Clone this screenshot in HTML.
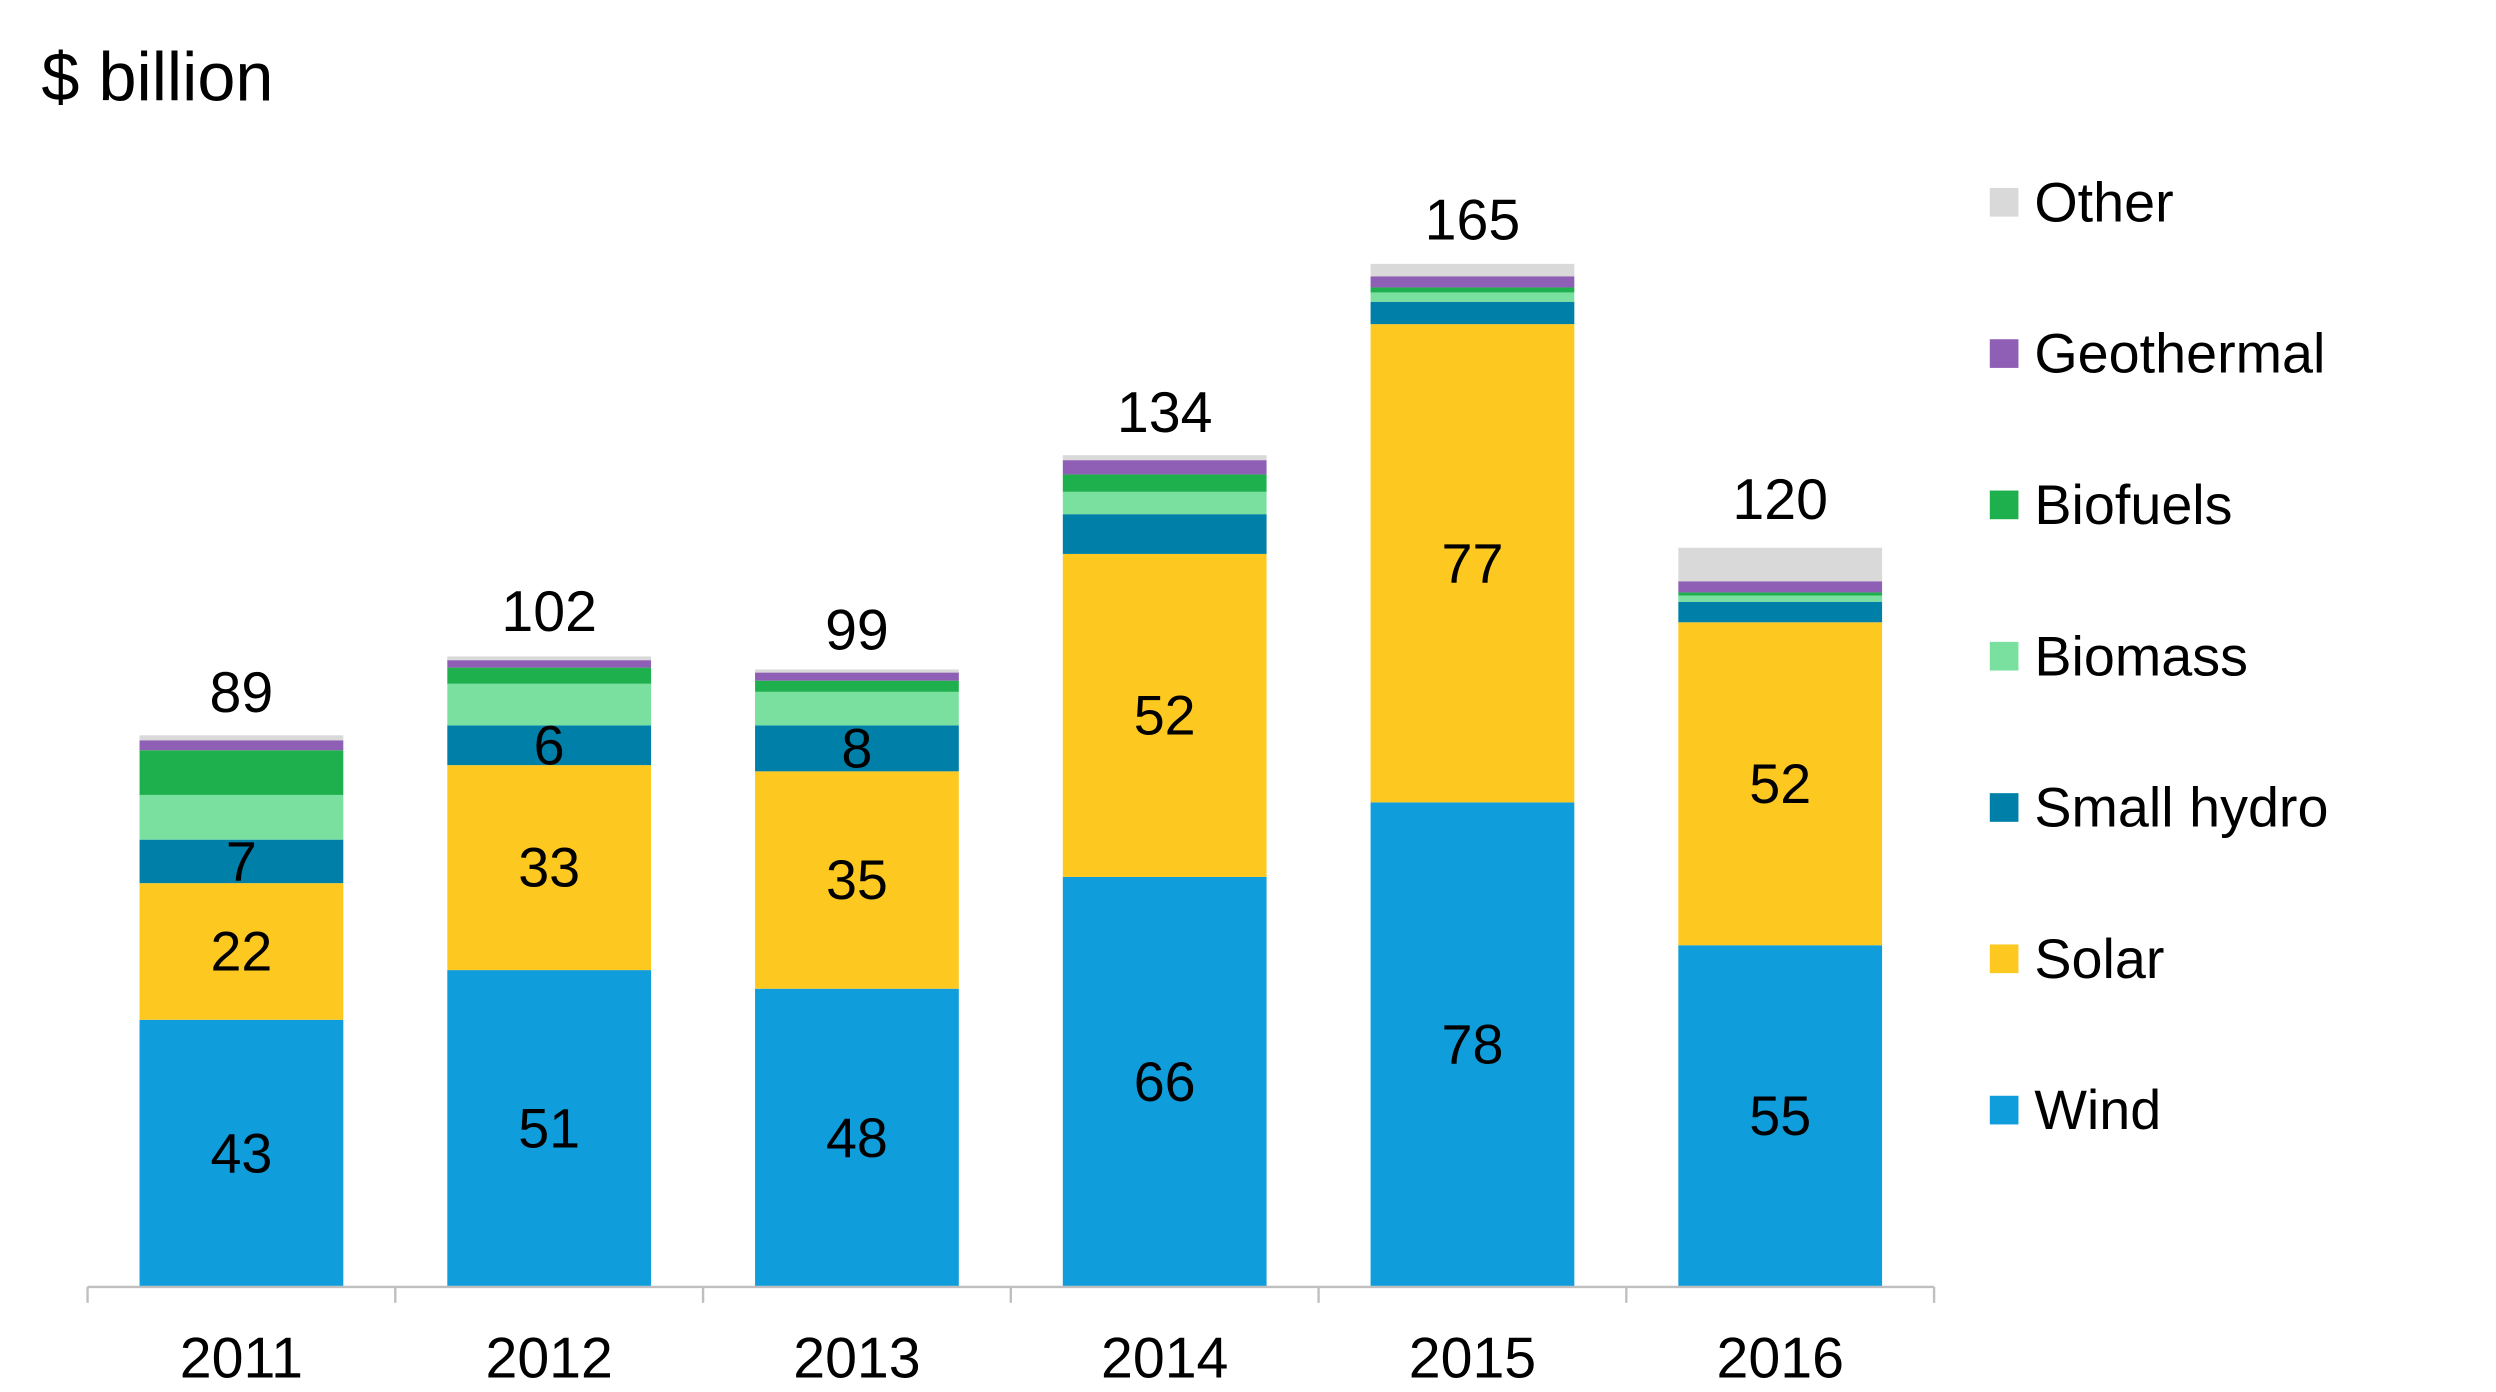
<!DOCTYPE html>
<html><head><meta charset="utf-8"><style>
html,body{margin:0;padding:0;background:#fff;}
svg{display:block;font-family:"Liberation Sans",Arial,sans-serif;}
</style></head><body>
<svg id="chart" width="2496" height="1392" viewBox="0 0 1568 874" preserveAspectRatio="none" xmlns="http://www.w3.org/2000/svg">
<text x="26" y="63" font-size="43" fill="#000">$ billion</text>
<g id="bars"></g>
<g id="axis"></g>
<g id="legend"></g>
</svg>
<script>
const years = ["2011","2012","2013","2014","2015","2016"];
const totals = [89,102,99,134,165,120];
const wind = [43,51,48,66,78,55];
const solar = [22,33,35,52,77,52];
const smallHydro = [7,6.4,7.4,6.4,3.6,3.3];
const biomass = [7.2,6.7,5.4,3.6,1.5,1];
const biofuels = [7.2,2.6,1.8,2.8,0.8,0.5];
const geothermal = [1.6,1.2,1.3,2.3,1.8,1.8];
const other = [0.8,0.6,0.5,0.8,2,5.4];
const windLabels = ["43","51","48","66","78","55"];
const solarLabels = ["22","33","35","52","77","52"];
const hydroLabels = ["7","6","8","","",""];

const seriesNames = ["Wind","Solar","Small hydro","Biomass","Biofuels","Geothermal","Other"];
const seriesData = [wind,solar,smallHydro,biomass,biofuels,geothermal,other];
const seriesLabels = [windLabels,solarLabels,hydroLabels,null,null,null,null];
const colors = ["#0f9ddb","#fdc820","#0080a8","#7ae0a0","#1fb04e","#8e5fb5","#d9d9d9"];

const NS="http://www.w3.org/2000/svg";
const baseY=808, pxPerUnit=3.9, axisL=55, axisR=1215, barW=128;
const catW=(axisR-axisL)/years.length;
function y(v){return baseY - v*pxPerUnit;}
function xc(i){return axisL + catW*(i+0.5);}
function mk(tag,attrs,parent){const e=document.createElementNS(NS,tag);for(const k in attrs)e.setAttribute(k,attrs[k]);parent.appendChild(e);return e;}

const bars=document.getElementById('bars');
years.forEach((yr,i)=>{
  let cum=0;
  seriesData.forEach((arr,s)=>{
    const v=arr[i];
    const r=mk('rect',{x:xc(i)-barW/2,y:y(cum+v),width:barW,height:v*pxPerUnit,fill:colors[s]},bars);
    
    
    const lab=seriesLabels[s];
    if(lab&&lab[i]){
      const t=mk('text',{x:xc(i),y:y(cum+v/2)+12,'font-size':35,'text-anchor':'middle',fill:'#000'},bars);
      t.textContent=lab[i];
      
      
    }
    cum+=v;
  });
  const tt=mk('text',{x:xc(i),y:y(totals[i])-14,'font-size':36,'text-anchor':'middle',fill:'#000'},bars);
  tt.textContent=totals[i];
  
  
});

const axis=document.getElementById('axis');
const al=mk('line',{x1:axisL,x2:axisR,y1:baseY,y2:baseY,stroke:'#bfbfbf','stroke-width':1.5},axis);


for(let i=0;i<=years.length;i++){
  const tk=mk('line',{x1:axisL+catW*i,x2:axisL+catW*i,y1:baseY,y2:baseY+10,stroke:'#bfbfbf','stroke-width':1.5},axis);
  
  
}
years.forEach((yr,i)=>{
  const t=mk('text',{x:xc(i),y:865,'font-size':36,'text-anchor':'middle',fill:'#000'},axis);
  t.textContent=yr;
  
  
});

const legend=document.getElementById('legend');
for(let k=0;k<7;k++){
  const s=6-k;
  const cy=127+k*95;
  const g=mk('g',{},legend);
  
  
  mk('rect',{x:1250,y:cy-9,width:18,height:18,fill:colors[s]},g);
  const t=mk('text',{x:1278,y:cy+12,'font-size':35,fill:'#000'},g);
  t.textContent=seriesNames[s];
}
</script>
</body></html>
